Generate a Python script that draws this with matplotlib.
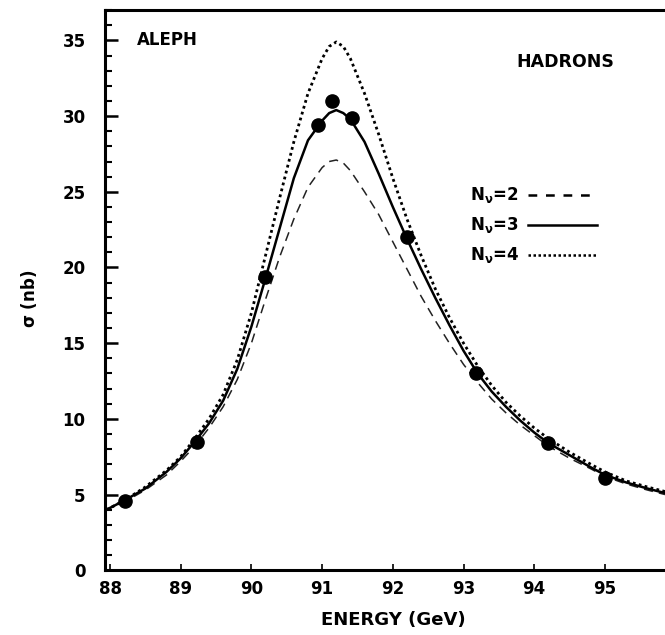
import matplotlib
matplotlib.use("Agg")
import matplotlib.pyplot as plt
from matplotlib.ticker import MultipleLocator

# Data points (ALEPH hadronic cross section)
data_energy = [88.21, 89.23, 90.19, 90.94, 91.14, 91.42, 92.2, 93.18, 94.19, 95.0]
data_sigma = [4.6, 8.5, 19.4, 29.4, 31.0, 29.9, 22.0, 13.0, 8.4, 6.1]

# Curves
curve_energy = [87.95, 88.2, 88.5, 88.8, 89.0, 89.2, 89.4, 89.6, 89.8, 90.0,
                90.2, 90.4, 90.6, 90.8, 91.0, 91.1, 91.2, 91.3, 91.4, 91.6,
                91.8, 92.0, 92.2, 92.4, 92.6, 92.8, 93.0, 93.2, 93.4, 93.6,
                93.8, 94.0, 94.2, 94.5, 94.8, 95.0, 95.3, 95.6, 95.85]
sigma_nu2 = [4.0, 4.5, 5.3, 6.3, 7.2, 8.2, 9.4, 10.8, 12.6, 15.0,
             17.9, 20.7, 23.2, 25.3, 26.6, 27.0, 27.1, 26.9, 26.4, 25.0,
             23.5, 21.7, 19.9, 18.1, 16.5, 15.0, 13.6, 12.4, 11.3, 10.4,
             9.6, 8.9, 8.2, 7.4, 6.7, 6.2, 5.7, 5.3, 5.0]
sigma_nu3 = [4.0, 4.6, 5.4, 6.5, 7.4, 8.5, 9.7, 11.2, 13.3, 16.1,
             19.3, 22.6, 25.9, 28.4, 29.7, 30.2, 30.4, 30.2, 29.8, 28.3,
             26.2, 24.0, 21.9, 19.9, 18.0, 16.2, 14.5, 13.0, 11.8, 10.8,
             9.9, 9.1, 8.4, 7.6, 6.8, 6.3, 5.8, 5.4, 5.1]
sigma_nu4 = [4.0, 4.6, 5.5, 6.6, 7.5, 8.7, 10.0, 11.6, 13.9, 17.0,
             20.8, 24.6, 28.3, 31.5, 33.8, 34.6, 34.9, 34.6, 33.8, 31.5,
             28.8, 25.9, 23.2, 20.8, 18.6, 16.7, 15.0, 13.5, 12.2, 11.1,
             10.2, 9.4, 8.7, 7.8, 7.0, 6.5, 5.9, 5.5, 5.2]

x_ticks = [88, 89, 90, 91, 92, 93, 94, 95]
x_tick_labels = ["88", "89", "90", "91", "92", "93", "94", "95"]
y_ticks = [0, 5, 10, 15, 20, 25, 30, 35]
y_tick_labels = ["0", "5", "10", "15", "20", "25", "30", "35"]
legend_labels = [r"N$_\nu$=2", r"N$_\nu$=3", r"N$_\nu$=4"]

plt.rcParams['font.family'] = ['DejaVu Sans']
plt.rcParams['font.weight'] = 'bold'
plt.rcParams['mathtext.default'] = 'bf'

fig = plt.figure(figsize=(6.65, 6.35), dpi=100)
ax = fig.add_axes([0.158, 0.102, 0.842, 0.882])

ax.plot(curve_energy, sigma_nu2, color='#222222', lw=1.1, linestyle=(0, (6, 4)))
ax.plot(curve_energy, sigma_nu3, color='black', lw=1.8, linestyle='-')
ax.plot(curve_energy, sigma_nu4, color='black', lw=2.0, linestyle=(0, (1, 1.2)))
ax.plot(data_energy, data_sigma, 'o', color='black', markersize=9.5, zorder=5)

ax.set_xlim(87.93, 95.85)
ax.set_ylim(0, 37)
ax.set_xticks(x_ticks)
ax.set_xticklabels(x_tick_labels)
ax.set_yticks(y_ticks)
ax.set_yticklabels(y_tick_labels)
ax.yaxis.set_minor_locator(MultipleLocator(1))
ax.tick_params(axis='y', which='major', direction='in', length=9, width=1.8, labelsize=12, pad=14)
ax.tick_params(axis='y', which='minor', direction='in', length=5, width=1.5)
ax.tick_params(axis='x', which='major', direction='in', length=4, width=1.2, labelsize=12, pad=7)

for s in ['left', 'bottom', 'top']:
    ax.spines[s].set_linewidth(2.2)
ax.spines['right'].set_visible(False)

ax.set_xlabel("ENERGY (GeV)", fontsize=13, fontweight='bold')
ax.xaxis.set_label_coords(0.514, -0.072)
ax.set_ylabel(r"$\sigma$ (nb)", fontsize=12, fontweight='bold')
ax.yaxis.set_label_coords(-0.118, 0.485)

ax.text(88.38, 35.0, "ALEPH", fontsize=12, fontweight='bold', va='center', ha='left')
ax.text(93.75, 33.6, "HADRONS", fontsize=12.5, fontweight='bold', va='center', ha='left')

# Legend drawn as text + line samples
leg_y = [24.8, 22.8, 20.8]
styles = [dict(lw=1.8, linestyle=(0, (3.5, 3.5))),
          dict(lw=1.8, linestyle='-'),
          dict(lw=1.8, linestyle=(0, (1, 1)))]
for lab, yy, st in zip(legend_labels, leg_y, styles):
    ax.text(93.09, yy, lab, fontsize=12, fontweight='bold', va='center', ha='left')
    ax.plot([93.91, 94.89], [yy, yy], color='black', **st)

fig.savefig("out.png", dpi=100)
